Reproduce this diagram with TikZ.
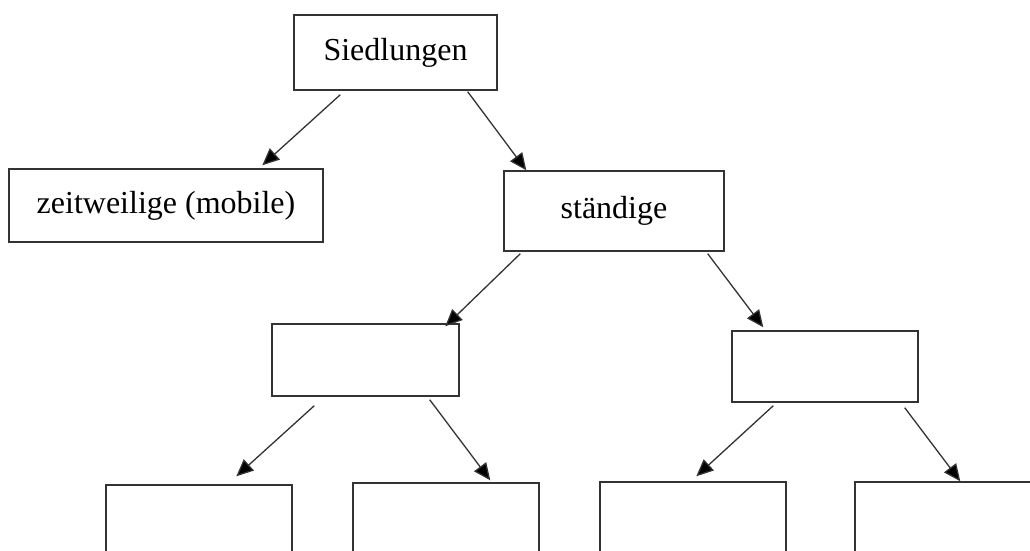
\documentclass[tikz,border=0pt]{standalone}
\usepackage{fontspec}
\setmainfont{Liberation Serif}
\usetikzlibrary{arrows.meta}
\begin{document}
\begin{tikzpicture}[x=1pt,y=-1pt,
  box/.style={draw=black!80,line width=1.4pt,rectangle,inner sep=0pt,font=\fontsize{32}{38}\selectfont},
  arr/.style={draw=black!80,line width=1.3pt,-{Triangle[length=17pt,width=15pt,fill=black]}}]
\useasboundingbox (0,0) rectangle (1030,551);
\clip (0,0) rectangle (1030,551);
\node[box,minimum width=203pt,minimum height=75pt] (sied) at (395.5,52.5) {Siedlungen};
\node[box,minimum width=314pt,minimum height=73pt] (zeit) at (166,205.5) {zeitweilige (mobile)};
\node[box,minimum width=220pt,minimum height=80pt] (staend) at (614,211) {ständige};
\node[box,minimum width=187pt,minimum height=72pt] (mida) at (365.5,360) {};
\node[box,minimum width=186pt,minimum height=71pt] (midb) at (825,366.5) {};
\node[box,minimum width=186pt,minimum height=130pt] (ba) at (199,550) {};
\node[box,minimum width=186pt,minimum height=130pt] (bb) at (446,548) {};
\node[box,minimum width=186pt,minimum height=130pt] (bc) at (693,547) {};
\node[box,minimum width=186pt,minimum height=130pt] (bd) at (948,547) {};
\draw[arr] ([shift={(47,4)}]sied.south west) -- ([shift={(254,-3)}]zeit.north west);
\draw[arr] ([shift={(-30,1)}]sied.south east) -- ([shift={(23,0)}]staend.north west);
\draw[arr] ([shift={(17,2)}]staend.south west) -- ([shift={(174,3)}]mida.north west);
\draw[arr] ([shift={(-17,2)}]staend.south east) -- ([shift={(32,-3)}]midb.north west);
\draw[arr] ([shift={(43,9)}]mida.south west) -- ([shift={(131,-8)}]ba.north west);
\draw[arr] ([shift={(-30,3)}]mida.south east) -- ([shift={(138,-2)}]bb.north west);
\draw[arr] ([shift={(42,3)}]midb.south west) -- ([shift={(97,-5)}]bc.north west);
\draw[arr] ([shift={(-14,5)}]midb.south east) -- ([shift={(106,0)}]bd.north west);
\end{tikzpicture}
\end{document}
